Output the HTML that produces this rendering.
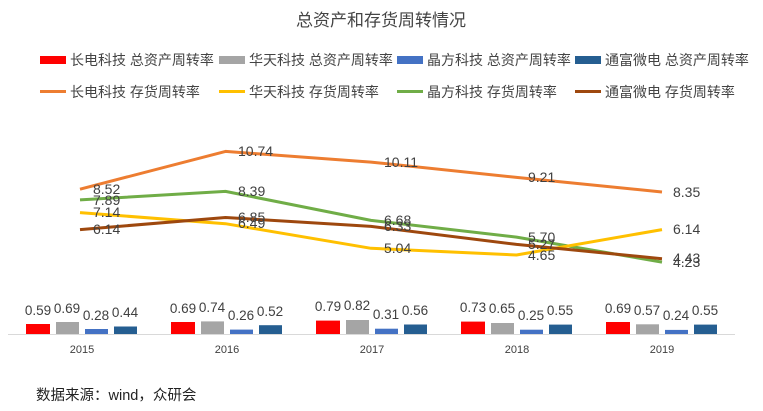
<!DOCTYPE html>
<html><head><meta charset="utf-8"><style>
html,body{margin:0;padding:0;background:#fff;}
svg{display:block;font-family:"Liberation Sans","Noto Sans CJK SC",sans-serif;}
</style></head><body>
<svg width="763" height="411" viewBox="0 0 763 411" xmlns="http://www.w3.org/2000/svg">
<text x="381" y="26" text-anchor="middle" font-size="17" fill="#444">总资产和存货周转情况</text>
<g font-size="14" fill="#444">
<rect x="40" y="56" width="26" height="8" fill="#ff0000"/><text x="70" y="65">长电科技 总资产周转率</text>
<rect x="219" y="56" width="26" height="8" fill="#a5a5a5"/><text x="249" y="65">华天科技 总资产周转率</text>
<rect x="397" y="56" width="26" height="8" fill="#4472c4"/><text x="427" y="65">晶方科技 总资产周转率</text>
<rect x="575" y="56" width="26" height="8" fill="#255e91"/><text x="605" y="65">通富微电 总资产周转率</text>
<rect x="40" y="90" width="26" height="3" fill="#ed7d31"/><text x="70" y="97">长电科技 存货周转率</text>
<rect x="219" y="90" width="26" height="3" fill="#ffc000"/><text x="249" y="97">华天科技 存货周转率</text>
<rect x="397" y="90" width="26" height="3" fill="#70ad47"/><text x="427" y="97">晶方科技 存货周转率</text>
<rect x="575" y="90" width="26" height="3" fill="#9e480e"/><text x="605" y="97">通富微电 存货周转率</text>
</g>
<line x1="8" y1="334.5" x2="735" y2="334.5" stroke="#d9d9d9" stroke-width="1"/>
<g fill="none" stroke-width="3" stroke-linejoin="round">
<polyline stroke="#ed7d31" points="80,189.2 225.5,151.4 371,162.1 516.5,177.4 662,192"/>
<polyline stroke="#70ad47" points="80,199.9 225.5,191.4 371,220.4 516.5,237.1 662,262.1"/>
<polyline stroke="#ffc000" points="80,212.6 225.5,223.7 371,248.3 516.5,255 662,229.6"/>
<polyline stroke="#9e480e" points="80,229.6 225.5,217.5 371,226.4 516.5,244.4 662,258.7"/>
</g>
<g font-size="14" fill="#404040">
<text x="93" y="194">8.52</text><text x="238" y="156">10.74</text><text x="384" y="167">10.11</text><text x="528" y="182">9.21</text><text x="673" y="197">8.35</text>
<text x="93" y="205">7.89</text><text x="238" y="196">8.39</text><text x="384" y="225">6.68</text><text x="528" y="242">5.70</text><text x="673" y="267">4.23</text>
<text x="93" y="217">7.14</text><text x="238" y="228">6.49</text><text x="384" y="253">5.04</text><text x="528" y="260">4.65</text><text x="673" y="234">6.14</text>
<text x="93" y="234">6.14</text><text x="238" y="222">6.85</text><text x="384" y="231">6.33</text><text x="528" y="249">5.27</text><text x="673" y="263">4.43</text>
</g>
<g font-size="13.5" fill="#404040" text-anchor="middle">
<rect x="26" y="324" width="24" height="10" fill="#ff0000"/><text x="38" y="315">0.59</text>
<rect x="56" y="322" width="23" height="12" fill="#a5a5a5"/><text x="67" y="313">0.69</text>
<rect x="85" y="329" width="23" height="5" fill="#4472c4"/><text x="96" y="320">0.28</text>
<rect x="114" y="326.5" width="23" height="7.5" fill="#255e91"/><text x="125" y="317">0.44</text>
<rect x="171" y="322" width="24" height="12" fill="#ff0000"/><text x="183" y="313">0.69</text>
<rect x="201" y="321.4" width="23" height="12.6" fill="#a5a5a5"/><text x="212" y="312">0.74</text>
<rect x="230" y="329.6" width="23" height="4.4" fill="#4472c4"/><text x="241" y="320">0.26</text>
<rect x="259" y="325.2" width="23" height="8.8" fill="#255e91"/><text x="270" y="316">0.52</text>
<rect x="316" y="320.6" width="24" height="13.4" fill="#ff0000"/><text x="328" y="311">0.79</text>
<rect x="346" y="320" width="23" height="14" fill="#a5a5a5"/><text x="357" y="310">0.82</text>
<rect x="375" y="328.7" width="23" height="5.3" fill="#4472c4"/><text x="386" y="319">0.31</text>
<rect x="404" y="324.5" width="23" height="9.5" fill="#255e91"/><text x="415" y="315">0.56</text>
<rect x="461" y="321.6" width="24" height="12.4" fill="#ff0000"/><text x="473" y="312">0.73</text>
<rect x="491" y="323" width="23" height="11" fill="#a5a5a5"/><text x="502" y="313">0.65</text>
<rect x="520" y="329.7" width="23" height="4.3" fill="#4472c4"/><text x="531" y="320">0.25</text>
<rect x="549" y="324.6" width="23" height="9.4" fill="#255e91"/><text x="560" y="315">0.55</text>
<rect x="606" y="322" width="24" height="12" fill="#ff0000"/><text x="618" y="313">0.69</text>
<rect x="636" y="324.3" width="23" height="9.7" fill="#a5a5a5"/><text x="647" y="315">0.57</text>
<rect x="665" y="329.9" width="23" height="4.1" fill="#4472c4"/><text x="676" y="320">0.24</text>
<rect x="694" y="324.6" width="23" height="9.4" fill="#255e91"/><text x="705" y="315">0.55</text>
</g>
<g font-size="11" fill="#404040" text-anchor="middle">
<text x="82" y="353">2015</text><text x="227" y="353">2016</text><text x="372" y="353">2017</text><text x="517" y="353">2018</text><text x="662" y="353">2019</text>
</g>
<text x="36" y="400" font-size="14.5" fill="#222">数据来源：wind，众研会</text>
</svg>
</body></html>
